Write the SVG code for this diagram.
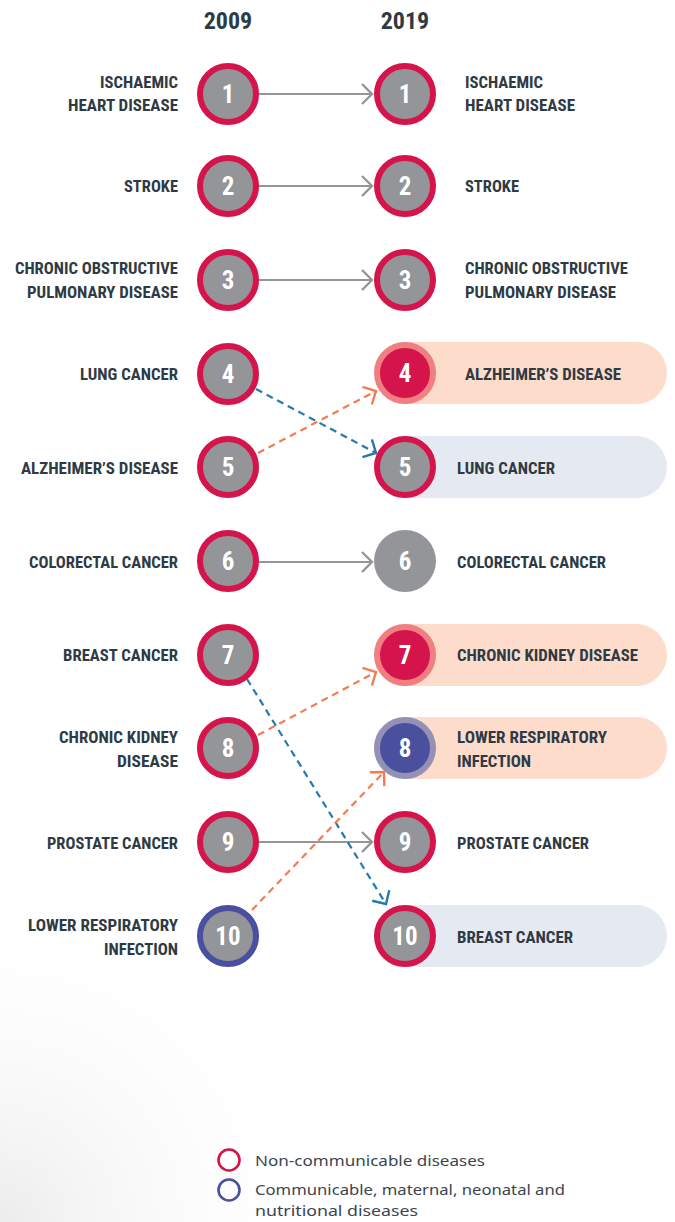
<svg xmlns="http://www.w3.org/2000/svg" width="675" height="1222" viewBox="0 0 675 1222">
<defs>
<radialGradient id="bg" cx="0" cy="1222" r="330" gradientUnits="userSpaceOnUse">
<stop offset="0" stop-color="#ececec"/><stop offset="1" stop-color="#ffffff" stop-opacity="0"/>
</radialGradient>
<marker id="ag" markerUnits="userSpaceOnUse" markerWidth="16" markerHeight="24" refX="11" refY="12" orient="auto" viewBox="0 0 16 24"><path d="M1,2 L11,12 L1,22" fill="none" stroke="#939598" stroke-width="2.4"/></marker>
<marker id="ao" markerUnits="userSpaceOnUse" markerWidth="16" markerHeight="24" refX="11" refY="12" orient="auto" viewBox="0 0 16 24"><path d="M1,2 L11,12 L1,22" fill="none" stroke="#f47c52" stroke-width="2.4"/></marker>
<marker id="ab" markerUnits="userSpaceOnUse" markerWidth="16" markerHeight="24" refX="11" refY="12" orient="auto" viewBox="0 0 16 24"><path d="M1,2 L11,12 L1,22" fill="none" stroke="#2479ad" stroke-width="2.4"/></marker>
</defs>
<style>
.lbl{font-family:"Liberation Sans Narrow","Roboto Condensed","DejaVu Sans Condensed","Liberation Sans",sans-serif;font-weight:bold;font-size:17px;fill:#2e3a44}
.r{text-anchor:end}
.num{font-family:"Liberation Sans Narrow","Roboto Condensed","DejaVu Sans Condensed","Liberation Sans",sans-serif;font-weight:bold;font-size:25px;fill:#ffffff;text-anchor:middle}
.yr{font-family:"Liberation Sans Narrow","Roboto Condensed","DejaVu Sans Condensed","Liberation Sans",sans-serif;font-weight:bold;font-size:24px;fill:#2e3a44;text-anchor:middle}
.nc{fill:#939598;stroke:#d4144a;stroke-width:6}
.cm{fill:#939598;stroke:#4b4f9f;stroke-width:6}
.up{fill:#fddccc}
.dn{fill:#e5e9f2}
.gl{stroke:#939598;stroke-width:2.2;fill:none;marker-end:url(#ag)}
.ol{stroke:#f47c52;stroke-width:2.2;fill:none;stroke-dasharray:7 5;marker-end:url(#ao)}
.bl{stroke:#2479ad;stroke-width:2.2;fill:none;stroke-dasharray:7 5;marker-end:url(#ab)}
.leg{font-family:"Noto Sans","Open Sans",sans-serif;font-size:15px;fill:#3a4550}
</style>
<rect x="0" y="0" width="675" height="1222" fill="#ffffff"/>
<rect x="0" y="900" width="675" height="322" fill="url(#bg)"/>

<g id="years">
<text class="yr" x="228" y="29">2009</text>
<text class="yr" x="405" y="29">2019</text>
</g>

<g id="pills">
<rect class="up" x="378" y="342" width="289" height="62" rx="31"/>
<rect class="dn" x="378" y="436" width="289" height="62" rx="31"/>
<rect class="up" x="378" y="624" width="289" height="62" rx="31"/>
<rect class="up" x="378" y="717" width="289" height="62" rx="31"/>
<rect class="dn" x="378" y="905" width="289" height="62" rx="31"/>
</g>

<g id="connectors">
<line class="gl" x1="259" y1="94" x2="372" y2="94"/>
<line class="gl" x1="259" y1="186" x2="372" y2="186"/>
<line class="gl" x1="259" y1="280" x2="372" y2="280"/>
<line class="gl" x1="259" y1="562" x2="372" y2="562"/>
<line class="gl" x1="259" y1="842" x2="372" y2="842"/>
<line class="bl" x1="256" y1="389" x2="376" y2="453"/>
<line class="ol" x1="258" y1="453" x2="376" y2="391"/>
<line class="ol" x1="258" y1="735" x2="376" y2="672"/>
<line class="bl" x1="247" y1="679" x2="386" y2="904"/>
<line class="ol" x1="252" y1="910" x2="384" y2="772"/>
</g>

<g id="left-1"><circle class="nc" cx="228" cy="94" r="28"/><text class="num" x="228" y="103">1</text>
<text class="lbl r" x="178" y="88" textLength="78" lengthAdjust="spacingAndGlyphs">ISCHAEMIC</text>
<text class="lbl r" x="178" y="111" textLength="110" lengthAdjust="spacingAndGlyphs">HEART DISEASE</text></g>
<g id="left-2"><circle class="nc" cx="228" cy="186" r="28"/><text class="num" x="228" y="195">2</text>
<text class="lbl r" x="178" y="192" textLength="54" lengthAdjust="spacingAndGlyphs">STROKE</text></g>
<g id="left-3"><circle class="nc" cx="228" cy="280" r="28"/><text class="num" x="228" y="289">3</text>
<text class="lbl r" x="178" y="274" textLength="163" lengthAdjust="spacingAndGlyphs">CHRONIC OBSTRUCTIVE</text>
<text class="lbl r" x="178" y="298" textLength="151" lengthAdjust="spacingAndGlyphs">PULMONARY DISEASE</text></g>
<g id="left-4"><circle class="nc" cx="228" cy="374" r="28"/><text class="num" x="228" y="383">4</text>
<text class="lbl r" x="178" y="380" textLength="98" lengthAdjust="spacingAndGlyphs">LUNG CANCER</text></g>
<g id="left-5"><circle class="nc" cx="228" cy="467" r="28"/><text class="num" x="228" y="476">5</text>
<text class="lbl r" x="178" y="474" textLength="157" lengthAdjust="spacingAndGlyphs">ALZHEIMER’S DISEASE</text></g>
<g id="left-6"><circle class="nc" cx="228" cy="561" r="28"/><text class="num" x="228" y="570">6</text>
<text class="lbl r" x="178" y="568" textLength="149" lengthAdjust="spacingAndGlyphs">COLORECTAL CANCER</text></g>
<g id="left-7"><circle class="nc" cx="228" cy="655" r="28"/><text class="num" x="228" y="664">7</text>
<text class="lbl r" x="178" y="661" textLength="115" lengthAdjust="spacingAndGlyphs">BREAST CANCER</text></g>
<g id="left-8"><circle class="nc" cx="228" cy="748" r="28"/><text class="num" x="228" y="757">8</text>
<text class="lbl r" x="178" y="743" textLength="119" lengthAdjust="spacingAndGlyphs">CHRONIC KIDNEY</text>
<text class="lbl r" x="178" y="767" textLength="61" lengthAdjust="spacingAndGlyphs">DISEASE</text></g>
<g id="left-9"><circle class="nc" cx="228" cy="842" r="28"/><text class="num" x="228" y="851">9</text>
<text class="lbl r" x="178" y="849" textLength="131" lengthAdjust="spacingAndGlyphs">PROSTATE CANCER</text></g>
<g id="left-10"><circle class="cm" cx="228" cy="936" r="28"/><text class="num" x="228" y="945">10</text>
<text class="lbl r" x="178" y="931" textLength="150" lengthAdjust="spacingAndGlyphs">LOWER RESPIRATORY</text>
<text class="lbl r" x="178" y="955" textLength="74" lengthAdjust="spacingAndGlyphs">INFECTION</text></g>

<g id="right-1"><circle class="nc" cx="405" cy="94" r="28"/><text class="num" x="405" y="103">1</text>
<text class="lbl" x="465" y="88" textLength="78" lengthAdjust="spacingAndGlyphs">ISCHAEMIC</text>
<text class="lbl" x="465" y="111" textLength="110" lengthAdjust="spacingAndGlyphs">HEART DISEASE</text></g>
<g id="right-2"><circle class="nc" cx="405" cy="186" r="28"/><text class="num" x="405" y="195">2</text>
<text class="lbl" x="465" y="192" textLength="54" lengthAdjust="spacingAndGlyphs">STROKE</text></g>
<g id="right-3"><circle class="nc" cx="405" cy="280" r="28"/><text class="num" x="405" y="289">3</text>
<text class="lbl" x="465" y="274" textLength="163" lengthAdjust="spacingAndGlyphs">CHRONIC OBSTRUCTIVE</text>
<text class="lbl" x="465" y="298" textLength="151" lengthAdjust="spacingAndGlyphs">PULMONARY DISEASE</text></g>
<g id="right-4"><circle cx="405" cy="373" r="28" fill="#d4144a" stroke="#f07f82" stroke-width="6"/><text class="num" x="405" y="382">4</text>
<text class="lbl" x="465" y="380" textLength="156" lengthAdjust="spacingAndGlyphs">ALZHEIMER’S DISEASE</text></g>
<g id="right-5"><circle class="nc" cx="405" cy="467" r="28"/><text class="num" x="405" y="476">5</text>
<text class="lbl" x="457" y="474" textLength="98" lengthAdjust="spacingAndGlyphs">LUNG CANCER</text></g>
<g id="right-6"><circle cx="405" cy="561" r="31" fill="#939598"/><text class="num" x="405" y="570">6</text>
<text class="lbl" x="457" y="568" textLength="149" lengthAdjust="spacingAndGlyphs">COLORECTAL CANCER</text></g>
<g id="right-7"><circle cx="405" cy="655" r="28" fill="#d4144a" stroke="#f07f82" stroke-width="6"/><text class="num" x="405" y="664">7</text>
<text class="lbl" x="457" y="661" textLength="181" lengthAdjust="spacingAndGlyphs">CHRONIC KIDNEY DISEASE</text></g>
<g id="right-8"><circle cx="405" cy="748" r="28" fill="#4a4f9e" stroke="#9591b6" stroke-width="6"/><text class="num" x="405" y="757">8</text>
<text class="lbl" x="457" y="743" textLength="150" lengthAdjust="spacingAndGlyphs">LOWER RESPIRATORY</text>
<text class="lbl" x="457" y="767" textLength="74" lengthAdjust="spacingAndGlyphs">INFECTION</text></g>
<g id="right-9"><circle class="nc" cx="405" cy="842" r="28"/><text class="num" x="405" y="851">9</text>
<text class="lbl" x="457" y="849" textLength="132" lengthAdjust="spacingAndGlyphs">PROSTATE CANCER</text></g>
<g id="right-10"><circle class="nc" cx="405" cy="936" r="28"/><text class="num" x="405" y="945">10</text>
<text class="lbl" x="457" y="943" textLength="116" lengthAdjust="spacingAndGlyphs">BREAST CANCER</text></g>

<g id="legend">
<circle cx="229" cy="1160" r="10.5" fill="none" stroke="#d4144a" stroke-width="2.6"/>
<circle cx="229" cy="1190" r="10.5" fill="none" stroke="#4b4f9f" stroke-width="2.6"/>
<text class="leg" x="255" y="1166" textLength="230" lengthAdjust="spacingAndGlyphs">Non-communicable diseases</text>
<text class="leg" x="255" y="1195" textLength="310" lengthAdjust="spacingAndGlyphs">Communicable, maternal, neonatal and</text>
<text class="leg" x="255" y="1216" textLength="163" lengthAdjust="spacingAndGlyphs">nutritional diseases</text>
</g>
</svg>
